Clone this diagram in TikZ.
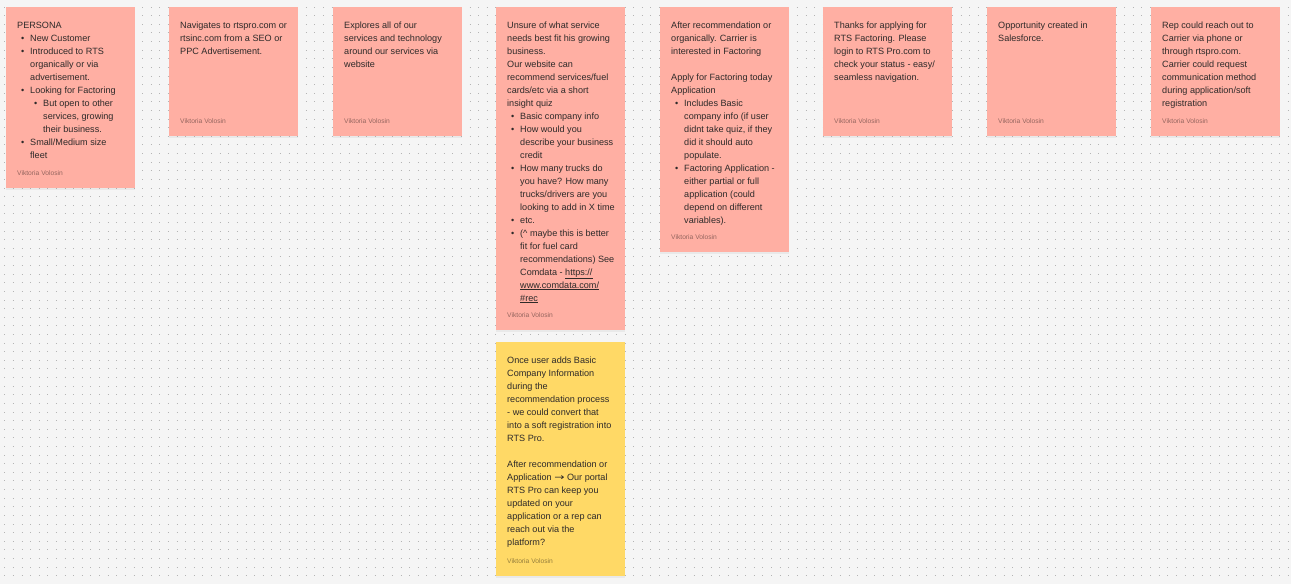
\documentclass[tikz,border=0pt]{standalone}
\usepackage{fontspec}
\setmainfont{Liberation Sans}
\newfontfamily\symfont{DejaVu Sans}
\usetikzlibrary{calc,shadows}
\definecolor{bgcol}{HTML}{F5F5F5}
\definecolor{dotcol}{HTML}{B4B4B4}
\definecolor{stickyred}{HTML}{FFAFA3}
\definecolor{stickyyellow}{HTML}{FFD966}
\definecolor{inkcol}{HTML}{2E2A29}
\newcommand{\bul}{\makebox[13pt][l]{\hspace{4pt}\textbullet}}
\newcommand{\ind}{\hspace*{13pt}}
\begin{document}
\begin{tikzpicture}[x=1pt,y=-1pt,
  sticky/.style={anchor=north west, minimum width=129pt, inner sep=0pt, fill=stickyred,
    drop shadow={shadow xshift=0pt, shadow yshift=-1.5pt, opacity=0.10}},
  body/.style={anchor=north west, inner sep=0pt, align=left, text=inkcol,
    font=\fontsize{9.1}{13}\selectfont},
  author/.style={anchor=west, inner sep=0pt, text=black, text opacity=0.42,
    font=\fontsize{6.7}{8}\selectfont}]
\useasboundingbox (0,0) rectangle (1291,584);
\fill[bgcol] (0,0) rectangle (1291,584);
\foreach \r in {0,...,66}
  \draw[dotcol, line width=1pt, dash pattern=on 1pt off 7.615pt]
    (4.3,{7.1+\r*8.615}) -- (1291,{7.1+\r*8.615});

% note 1
\node[sticky, minimum height=181pt] (n1) at (6,7) {};
\node[body] (t1) at ($(n1.north west)+(11,11.9)$) {\strut PERSONA\\
\bul New Customer\\
\bul Introduced to RTS\\
\ind organically or via\\
\ind advertisement.\\
\bul Looking for Factoring\\
\ind\bul But open to other\\
\ind\ind services, growing\\
\ind\ind their business.\\
\bul Small/Medium size\\
\ind fleet};
\node[author] (a1) at ($(n1.south west)+(11,-15)$) {Viktoria Volosin};

% note 2
\node[sticky, minimum height=129pt] (n2) at (169,7) {};
\node[body] (t2) at ($(n2.north west)+(11,11.9)$) {\strut Navigates to rtspro.com or\\
rtsinc.com from a SEO or\\
PPC Advertisement.};
\node[author] (a2) at ($(n2.south west)+(11,-15)$) {Viktoria Volosin};

% note 3
\node[sticky, minimum height=129pt] (n3) at (333,7) {};
\node[body] (t3) at ($(n3.north west)+(11,11.9)$) {\strut Explores all of our\\
services and technology\\
around our services via\\
website};
\node[author] (a3) at ($(n3.south west)+(11,-15)$) {Viktoria Volosin};

% note 4
\node[sticky, minimum height=323pt] (n4) at (496,7) {};
\node[body] (t4) at ($(n4.north west)+(11,11.9)$) {\strut Unsure of what service\\
needs best fit his growing\\
business.\\
Our website can\\
recommend services/fuel\\
cards/etc via a short\\
insight quiz\\
\bul Basic company info\\
\bul How would you\\
\ind describe your business\\
\ind credit\\
\bul How many trucks do\\
\ind you have? How many\\
\ind trucks/drivers are you\\
\ind looking to add in X time\\
\bul etc.\\
\bul (\^{} maybe this is better\\
\ind fit for fuel card\\
\ind recommendations) See\\
\ind Comdata - \underline{https://}\\
\ind \underline{www.comdata.com/}\\
\ind \underline{\#rec}};
\node[author] (a4) at ($(n4.south west)+(11,-15)$) {Viktoria Volosin};

% note 5
\node[sticky, minimum height=245pt] (n5) at (660,7) {};
\node[body] (t5) at ($(n5.north west)+(11,11.9)$) {\strut After recommendation or\\
organically. Carrier is\\
interested in Factoring\\
\mbox{}\\
Apply for Factoring today\\
Application\\
\bul Includes Basic\\
\ind company info (if user\\
\ind didnt take quiz, if they\\
\ind did it should auto\\
\ind populate.\\
\bul Factoring Application -\\
\ind either partial or full\\
\ind application (could\\
\ind depend on different\\
\ind variables).};
\node[author] (a5) at ($(n5.south west)+(11,-15)$) {Viktoria Volosin};

% note 6
\node[sticky, minimum height=129pt] (n6) at (823,7) {};
\node[body] (t6) at ($(n6.north west)+(11,11.9)$) {\strut Thanks for applying for\\
RTS Factoring. Please\\
login to RTS Pro.com to\\
check your status - easy/\\
seamless navigation.};
\node[author] (a6) at ($(n6.south west)+(11,-15)$) {Viktoria Volosin};

% note 7
\node[sticky, minimum height=129pt] (n7) at (987,7) {};
\node[body] (t7) at ($(n7.north west)+(11,11.9)$) {\strut Opportunity created in\\
Salesforce.};
\node[author] (a7) at ($(n7.south west)+(11,-15)$) {Viktoria Volosin};

% note 8
\node[sticky, minimum height=129pt] (n8) at (1151,7) {};
\node[body] (t8) at ($(n8.north west)+(11,11.9)$) {\strut Rep could reach out to\\
Carrier via phone or\\
through rtspro.com.\\
Carrier could request\\
communication method\\
during application/soft\\
registration};
\node[author] (a8) at ($(n8.south west)+(11,-15)$) {Viktoria Volosin};

% yellow note
\node[sticky, fill=stickyyellow, minimum height=234pt] (y1) at (496,342) {};
\node[body] (ty) at ($(y1.north west)+(11,11.9)$) {\strut Once user adds Basic\\
Company Information\\
during the\\
recommendation process\\
- we could convert that\\
into a soft registration into\\
RTS Pro.\\
\mbox{}\\
After recommendation or\\
Application {\symfont\scalebox{1.35}[1]{→}} Our portal\\
RTS Pro can keep you\\
updated on your\\
application or a rep can\\
reach out via the\\
platform?};
\node[author] (ay) at ($(y1.south west)+(11,-15)$) {Viktoria Volosin};
\end{tikzpicture}
\end{document}
